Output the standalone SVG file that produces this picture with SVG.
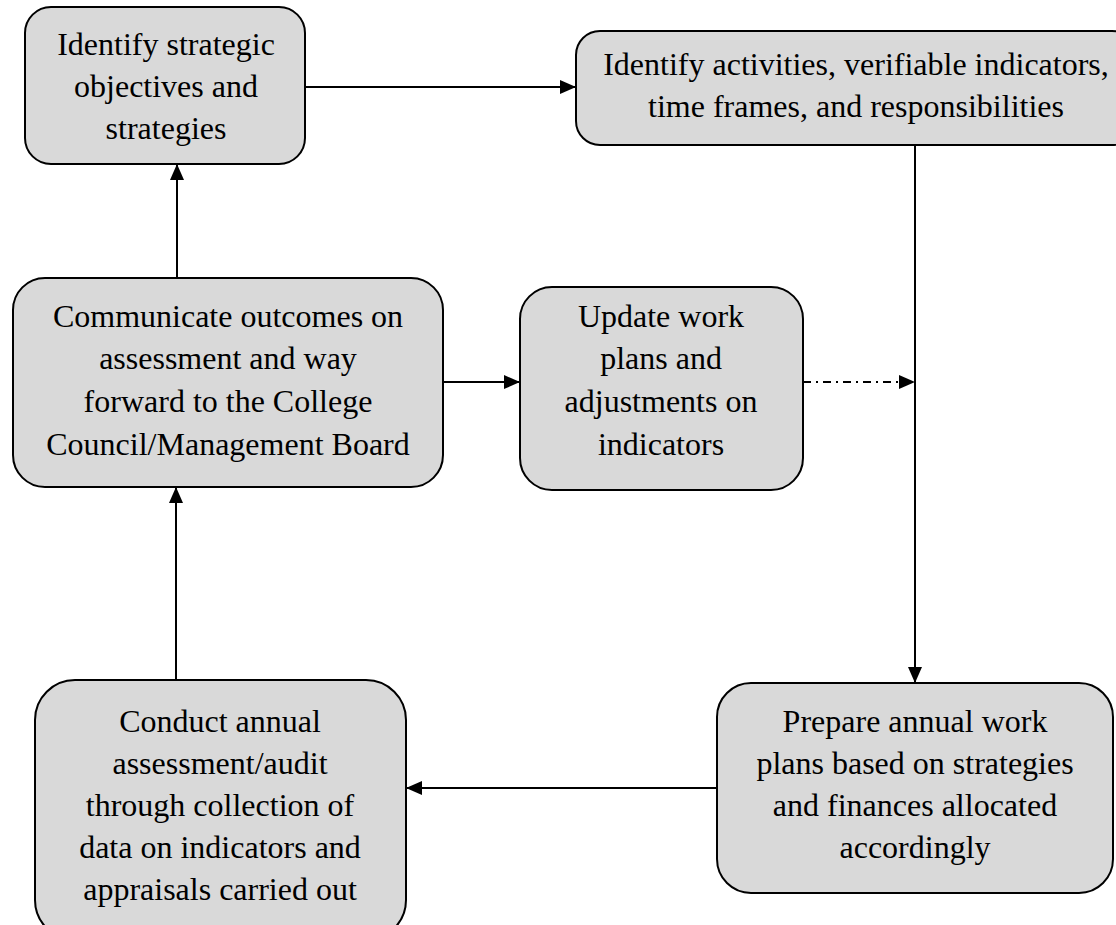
<svg xmlns="http://www.w3.org/2000/svg" width="1116" height="925" viewBox="0 0 1116 925">
<style>
.box{fill:#d9d9d9;stroke:#000;stroke-width:2}
.t{font-family:"Liberation Serif","Times New Roman",serif;font-size:32px;fill:#000;text-anchor:middle}
.c{fill:none;stroke:#000;stroke-width:2}
</style>
<defs>
<marker id="ah" viewBox="0 0 16 14" refX="16" refY="7" markerWidth="16" markerHeight="14" markerUnits="userSpaceOnUse" orient="auto">
<path d="M0,0 L16,7 L0,14 Z" fill="#000"/>
</marker>
</defs>
<rect width="1116" height="925" fill="#fff"/>
<g id="connectors">
<line class="c" x1="305" y1="87" x2="576" y2="87" marker-end="url(#ah)"/>
<line class="c" x1="915" y1="145" x2="915" y2="683" marker-end="url(#ah)"/>
<line class="c" x1="717" y1="788" x2="406" y2="788" marker-end="url(#ah)"/>
<line class="c" x1="176" y1="680" x2="176" y2="487" marker-end="url(#ah)"/>
<line class="c" x1="177" y1="278" x2="177" y2="164" marker-end="url(#ah)"/>
<line class="c" x1="443" y1="382" x2="520" y2="382" marker-end="url(#ah)"/>
<line class="c" x1="803" y1="382" x2="915" y2="382" stroke-dasharray="8 5 2 5" marker-end="url(#ah)"/>
</g>
<g id="n1">
<rect class="box" x="25" y="7" width="280" height="157" rx="26"/>
<text class="t" x="166" y="55">Identify strategic</text>
<text class="t" x="166" y="97">objectives and</text>
<text class="t" x="166" y="139">strategies</text>
</g>
<g id="n2">
<rect class="box" x="576" y="31" width="560" height="114" rx="24"/>
<text class="t" x="856" y="75">Identify activities, verifiable indicators,</text>
<text class="t" x="856" y="117">time frames, and responsibilities</text>
</g>
<g id="n3">
<rect class="box" x="13" y="278" width="430" height="209" rx="32"/>
<text class="t" x="228" y="327">Communicate outcomes on</text>
<text class="t" x="228" y="369">assessment and way</text>
<text class="t" x="228" y="412">forward to the College</text>
<text class="t" x="228" y="455">Council/Management Board</text>
</g>
<g id="n4">
<rect class="box" x="520" y="287" width="283" height="203" rx="32"/>
<text class="t" x="661" y="327">Update work</text>
<text class="t" x="661" y="369">plans and</text>
<text class="t" x="661" y="412">adjustments on</text>
<text class="t" x="661" y="455">indicators</text>
</g>
<g id="n5">
<rect class="box" x="717" y="683" width="396" height="210" rx="34"/>
<text class="t" x="915" y="732">Prepare annual work</text>
<text class="t" x="915" y="774">plans based on strategies</text>
<text class="t" x="915" y="816">and finances allocated</text>
<text class="t" x="915" y="858">accordingly</text>
</g>
<g id="n6">
<rect class="box" x="35" y="680" width="371" height="260" rx="40"/>
<text class="t" x="220" y="732">Conduct annual</text>
<text class="t" x="220" y="774">assessment/audit</text>
<text class="t" x="220" y="816">through collection of</text>
<text class="t" x="220" y="858">data on indicators and</text>
<text class="t" x="220" y="900">appraisals carried out</text>
</g>
</svg>
